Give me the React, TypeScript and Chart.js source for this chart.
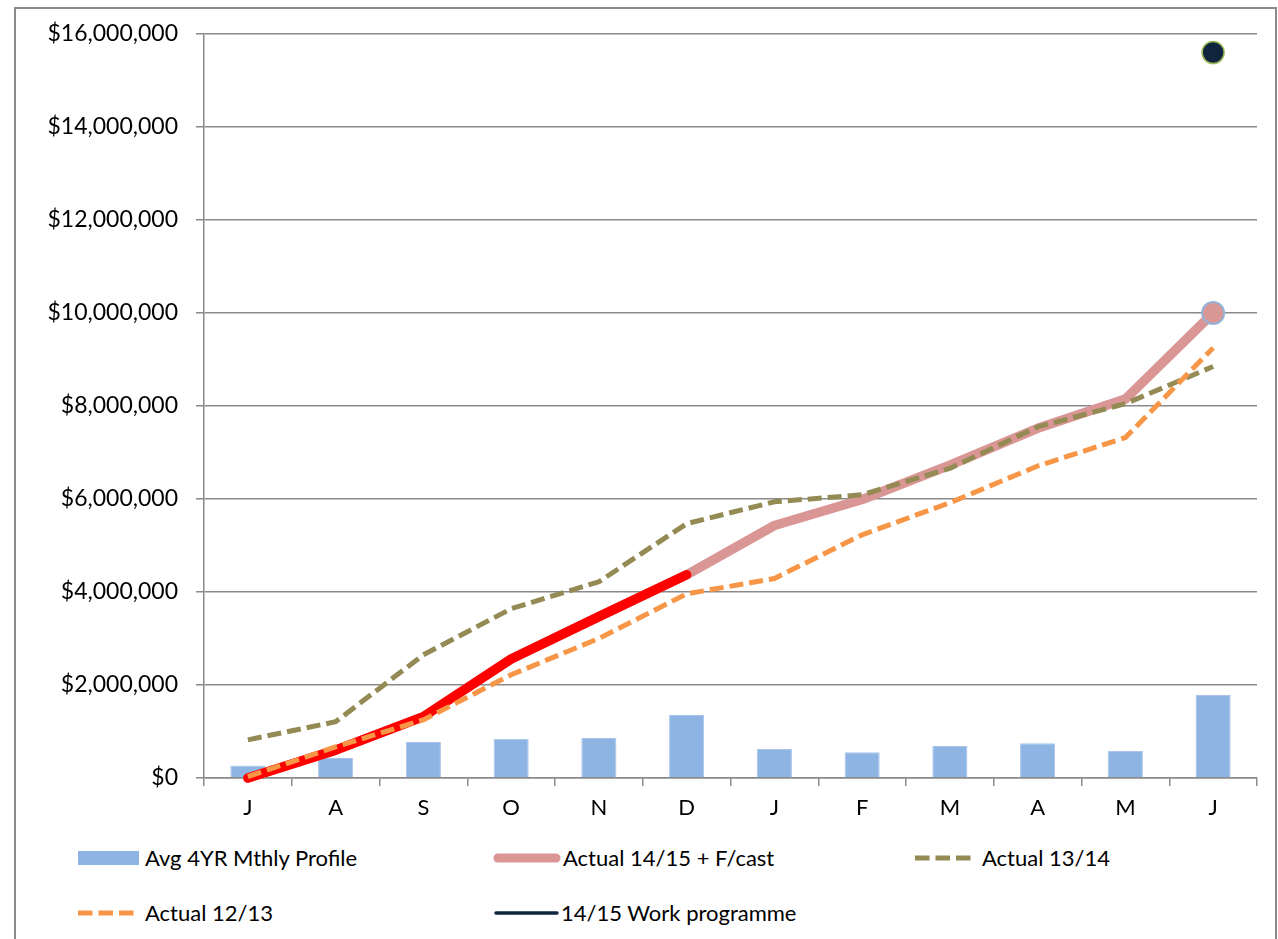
import React, { useEffect, useRef } from "react";
import { Chart, registerables } from "chart.js";

Chart.register(...registerables);

// Financial year months, July to June
const months = ["J", "A", "S", "O", "N", "D", "J", "F", "M", "A", "M", "J"];

// Average monthly spend over four years (bars)
const avgProfile = [270000, 430000, 775000, 845000, 860000, 1355000, 625000, 555000, 690000, 745000, 580000, 1785000];

// Cumulative 14/15 actuals followed by forecast
const actualForecast1415 = [0, 600000, 1320000, 2560000, 3470000, 4370000, 5430000, 5990000, 6730000, 7520000, 8150000, 10000000];

// Cumulative 14/15 actuals to date (highlighted in red)
const actualToDate1415 = [0, 600000, 1320000, 2560000, 3470000, 4370000, null, null, null, null, null, null];

// Cumulative actuals for previous years
const actual1314 = [820000, 1210000, 2650000, 3640000, 4220000, 5470000, 5940000, 6090000, 6660000, 7550000, 8050000, 8850000];
const actual1213 = [30000, 670000, 1250000, 2220000, 3000000, 3960000, 4290000, 5230000, 5920000, 6710000, 7320000, 9250000];

// Full-year work programme target
const workProgramme = [null, null, null, null, null, null, null, null, null, null, null, 15600000];

const yTickStep = 2000000;
const yMax = 16000000;

const LABEL_AVG = "Avg 4YR Mthly Profile";
const LABEL_1415 = "Actual 14/15 + F/cast";
const LABEL_1314 = "Actual 13/14";
const LABEL_1213 = "Actual 12/13";
const LABEL_WP = "14/15 Work programme";

const FONT = "Lato, 'Open Sans', sans-serif";
const GRID = "#8a8a8a";
const C_BAR = "#8EB4E3";
const C_PINK = "#D99694";
const C_RED = "#FF0000";
const C_OLIVE = "#948A54";
const C_ORANGE = "#F79646";
const C_NAVY = "#10243E";

function LegendItem(props: { left: number; top: number; textLeft: number; swatch: React.ReactNode; label: string }) {
  const { left, top, textLeft, swatch, label } = props;
  return (
    <>
      <svg style={{ position: "absolute", left, top: top - 10 }} width={70} height={20}>
        {swatch}
      </svg>
      <div
        style={{
          position: "absolute",
          left: textLeft,
          top: top - 14,
          height: 28,
          lineHeight: "28px",
          fontSize: 22,
          color: "#000",
          whiteSpace: "nowrap",
        }}
      >
        {label}
      </div>
    </>
  );
}

export default function App() {
  const canvasRef = useRef<HTMLCanvasElement>(null);

  useEffect(() => {
    const chart = new Chart(canvasRef.current!, {
      type: "bar",
      data: {
        labels: months,
        datasets: [
          {
            type: "line",
            label: LABEL_WP,
            data: workProgramme,
            borderColor: C_NAVY,
            borderWidth: 3,
            showLine: false,
            pointRadius: 11,
            pointBackgroundColor: C_NAVY,
            pointBorderColor: "#9BBB59",
            pointBorderWidth: 1.5,
            order: 0,
            clip: false,
          },
          {
            type: "line",
            label: LABEL_1213,
            data: actual1213,
            borderColor: C_ORANGE,
            borderWidth: 5,
            borderDash: [14, 6],
            pointRadius: 0,
            fill: false,
            tension: 0,
            order: 1,
            clip: false,
          },
          {
            type: "line",
            label: LABEL_1314,
            data: actual1314,
            borderColor: C_OLIVE,
            borderWidth: 5,
            borderDash: [14, 6],
            pointRadius: 0,
            fill: false,
            tension: 0,
            order: 2,
            clip: false,
          },
          {
            type: "line",
            label: "Actual 14/15",
            data: actualToDate1415,
            borderColor: C_RED,
            borderWidth: 9.5,
            borderCapStyle: "round",
            borderJoinStyle: "round",
            pointRadius: 0,
            fill: false,
            tension: 0,
            spanGaps: false,
            order: 3,
            clip: false,
          },
          {
            type: "line",
            label: LABEL_1415,
            data: actualForecast1415,
            borderColor: C_PINK,
            borderWidth: 9.5,
            borderCapStyle: "round",
            borderJoinStyle: "round",
            pointRadius: (ctx: any) => (ctx.dataIndex === actualForecast1415.length - 1 ? 11 : 0),
            pointBackgroundColor: C_PINK,
            pointBorderColor: "#95B3D7",
            pointBorderWidth: 2,
            fill: false,
            tension: 0,
            order: 4,
            clip: false,
          },
          {
            type: "bar",
            label: LABEL_AVG,
            data: avgProfile,
            backgroundColor: C_BAR,
            borderColor: "#A9C4E8",
            borderWidth: 1,
            barPercentage: 0.8,
            categoryPercentage: 0.5,
            order: 5,
          },
        ],
      },
      options: {
        animation: false,
        responsive: false,
        layout: { padding: { top: 34, right: 21, left: 0, bottom: 0 } },
        plugins: {
          legend: { display: false },
          tooltip: { enabled: false },
        },
        scales: {
          x: {
            offset: true,
            grid: {
              offset: true,
              drawOnChartArea: false,
              drawTicks: true,
              tickLength: 8,
              color: GRID,
              lineWidth: 1.5,
            },
            border: { display: true, color: GRID, width: 1.5 },
            ticks: {
              color: "#000",
              font: { family: FONT, size: 22 },
              padding: 9,
              maxRotation: 0,
              autoSkip: false,
            },
            afterFit: (s: any) => {
              s.height = 52;
            },
          },
          y: {
            min: 0,
            max: yMax,
            ticks: {
              stepSize: yTickStep,
              color: "#000",
              font: { family: FONT, size: 23 },
              padding: 18,
              callback: (v: any) => "$" + Number(v).toLocaleString("en-US"),
            },
            grid: { color: GRID, lineWidth: 1.5, tickLength: 8 },
            border: { display: true, color: GRID, width: 1.5 },
            afterFit: (s: any) => {
              s.width = 204;
            },
          },
        },
      },
    });
    return () => chart.destroy();
  }, []);

  return (
    <div
      style={{
        position: "absolute",
        left: 0,
        top: 0,
        width: 1278,
        height: 939,
        overflow: "hidden",
        background: "#fff",
        fontFamily: FONT,
      }}
    >
      <div
        style={{
          position: "absolute",
          left: 14,
          top: 7,
          width: 1263,
          height: 1000,
          border: "2px solid #8c8c8c",
          boxSizing: "border-box",
        }}
      />
      <canvas ref={canvasRef} width={1278} height={830} style={{ position: "absolute", left: 0, top: 0 }} />

      <LegendItem
        left={78}
        top={858}
        textLeft={145}
        label={LABEL_AVG}
        swatch={<rect x={0} y={3} width={61} height={14} fill={C_BAR} />}
      />
      <LegendItem
        left={493}
        top={858}
        textLeft={563}
        label={LABEL_1415}
        swatch={<line x1={5} y1={10} x2={63} y2={10} stroke={C_PINK} strokeWidth={9} strokeLinecap="round" />}
      />
      <LegendItem
        left={915}
        top={858}
        textLeft={982}
        label={LABEL_1314}
        swatch={<line x1={0} y1={10} x2={61} y2={10} stroke={C_OLIVE} strokeWidth={5} strokeDasharray="14.5 6" />}
      />
      <LegendItem
        left={78}
        top={913}
        textLeft={145}
        label={LABEL_1213}
        swatch={<line x1={0} y1={10} x2={61} y2={10} stroke={C_ORANGE} strokeWidth={5} strokeDasharray="14.5 6" />}
      />
      <LegendItem
        left={493}
        top={913}
        textLeft={561}
        label={LABEL_WP}
        swatch={<line x1={3} y1={10} x2={64} y2={10} stroke={C_NAVY} strokeWidth={3.5} strokeLinecap="round" />}
      />
    </div>
  );
}
